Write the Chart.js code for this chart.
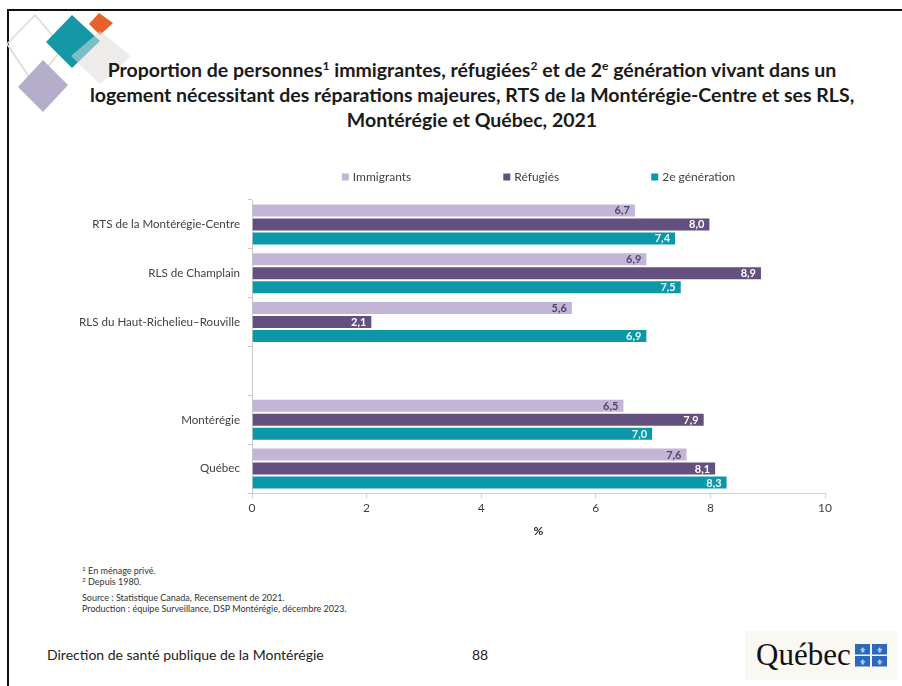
<!DOCTYPE html>
<html><head><meta charset="utf-8">
<script src="https://cdn.jsdelivr.net/npm/chart.js@4.4.0/dist/chart.umd.min.js"></script>
<style>
html,body{margin:0;padding:0;background:#fff;}
body{width:902px;height:686px;position:relative;overflow:hidden;font-family:Lato,sans-serif;}
.frame{position:absolute;left:7px;top:9px;width:900px;height:690px;border-left:2px solid #111;border-top:2px solid #111;}
.title{position:absolute;left:90px;width:764px;top:57px;text-align:center;font-weight:bold;font-size:19.5px;line-height:25px;color:#1a1a1a;white-space:nowrap;}
.title sup{font-size:0.62em;line-height:0;vertical-align:0.6em;}
#wrap{position:absolute;left:40px;top:160px;width:820px;height:390px;}
.notes{position:absolute;left:82px;top:565px;font-size:9px;line-height:11px;color:#333;}
.notes sup{font-size:6.5px;line-height:0;vertical-align:3px;}
.notes .gap{height:5px;}
.footer{position:absolute;left:47px;top:646px;font-size:14px;color:#222;}
.page{position:absolute;left:472px;top:646px;font-size:14px;color:#222;}
.logo{position:absolute;left:745px;top:631px;width:153px;height:49px;background:#faf8f3;}
.logo .q{position:absolute;left:11px;top:6px;font-family:"Liberation Serif",serif;font-size:31px;line-height:36px;color:#111;}
</style>
</head>
<body>
<div class="frame"></div>
<svg style="position:absolute;left:0;top:0" width="140" height="120">
  <polygon points="7,44 35,15 63,48 34,84" fill="none" stroke="#d6dccf" stroke-width="1.5"/>
  <polygon points="43,60 68,85 43,112 18,87" fill="#b5aeca"/>
  <polygon points="100,31 131,56 100,84 71,56" fill="#eceae8"/>
  <polygon points="72,15 100,41 72,68 46,42" fill="#1597a8"/>
  <polygon points="99,13 113,23 100,35 89,24" fill="#e8602b"/>
  <polygon points="100,31 131,56 100,84 71,56" fill="#f2f0ee" fill-opacity="0.45"/>
</svg>
<div class="title">Proportion de personnes<sup>1</sup> immigrantes, réfugiées<sup>2</sup> et de 2<sup>e</sup> génération vivant dans un<br>logement nécessitant des réparations majeures, RTS de la Montérégie-Centre et ses RLS,<br>Montérégie et Québec, 2021</div>
<div id="wrap"><canvas id="c" width="820" height="390"></canvas></div>
<div class="notes"><sup>1</sup> En ménage privé.<br><sup>2</sup> Depuis 1980.<div class="gap"></div>Source : Statistique Canada, Recensement de 2021.<br>Production : équipe Surveillance, DSP Montérégie, décembre 2023.</div>
<div class="footer">Direction de santé publique de la Montérégie</div>
<div class="page">88</div>
<div class="logo"><div class="q">Québec</div>
<svg style="position:absolute;left:110px;top:13px" width="34" height="24">
  <rect x="0" y="0" width="15" height="10.5" fill="#2c68bb"/>
  <rect x="17" y="0" width="15" height="10.5" fill="#2c68bb"/>
  <rect x="0" y="12" width="15" height="10.5" fill="#2c68bb"/>
  <rect x="17" y="12" width="15" height="10.5" fill="#2c68bb"/>
  <g fill="#fff" font-family="DejaVu Sans" font-size="8" text-anchor="middle">
    <text x="7.5" y="8.5">⚜</text><text x="24.5" y="8.5">⚜</text>
    <text x="7.5" y="20.5">⚜</text><text x="24.5" y="20.5">⚜</text>
  </g>
</svg>
</div>
<script>
const categories = ['RTS de la Montérégie-Centre','RLS de Champlain','RLS du Haut-Richelieu–Rouville','','Montérégie','Québec'];
const immigrants = [6.7, 6.9, 5.6, null, 6.5, 7.6];
const refugies = [8.0, 8.9, 2.1, null, 7.9, 8.1];
const deuxiemeGeneration = [7.4, 7.5, 6.9, null, 7.0, 8.3];
const seriesNames = ['Immigrants','Réfugiés','2e génération'];
const xTickValues = [0, 2, 4, 6, 8, 10];
const axisTitle = '%';

const barColors = ['#c2b5d5', '#63507f', '#0b99aa'];
const labelColors = ['#54456e', '#ffffff', '#eef8f9'];
const FONT = 'Lato';

const legendPlugin = {
  id: 'customLegend',
  afterDraw(chart) {
    const ctx = chart.ctx, ca = chart.chartArea;
    ctx.save();
    ctx.font = '12px ' + FONT;
    ctx.textBaseline = 'middle';
    ctx.textAlign = 'left';
    const box = 7, gapText = 4, gapItem = 92;
    const items = chart.data.datasets.map(d => ({text: d.label, color: d.backgroundColor, w: box + gapText + ctx.measureText(d.label).width}));
    const total = items.reduce((a, i) => a + i.w, 0) + gapItem * (items.length - 1);
    let x = (ca.left + ca.right) / 2 - total / 2;
    const y = 17;
    items.forEach(it => {
      ctx.fillStyle = it.color;
      ctx.fillRect(x, y - box / 2, box, box);
      ctx.fillStyle = '#404040';
      ctx.fillText(it.text, x + box + gapText, y);
      x += it.w + gapItem;
    });
    ctx.restore();
  }
};

const valueLabelPlugin = {
  id: 'valueLabels',
  afterDatasetsDraw(chart) {
    const ctx = chart.ctx;
    ctx.save();
    ctx.font = 'bold 11px ' + FONT;
    ctx.textAlign = 'right';
    ctx.textBaseline = 'middle';
    chart.data.datasets.forEach((ds, di) => {
      const meta = chart.getDatasetMeta(di);
      meta.data.forEach((el, i) => {
        const v = ds.data[i];
        if (v === null || v === undefined) return;
        ctx.fillStyle = labelColors[di];
        ctx.fillText(v.toFixed(1).replace('.', ','), el.x - 6, el.y + 0.5);
      });
    });
    ctx.restore();
  }
};

new Chart(document.getElementById('c'), {
  type: 'bar',
  data: {
    labels: categories,
    datasets: [
      {label: seriesNames[0], data: immigrants, backgroundColor: barColors[0]},
      {label: seriesNames[1], data: refugies, backgroundColor: barColors[1]},
      {label: seriesNames[2], data: deuxiemeGeneration, backgroundColor: barColors[2]}
    ].map(d => Object.assign(d, {borderColor: 'rgba(255,255,255,0.7)', borderWidth: 1, barPercentage: 1, categoryPercentage: 0.86}))
  },
  options: {
    indexAxis: 'y',
    responsive: false,
    animation: false,
    devicePixelRatio: 1,
    layout: {padding: {top: 40, right: 35, left: 0, bottom: 0}},
    plugins: {legend: {display: false}, tooltip: {enabled: false}},
    scales: {
      x: {
        min: 0, max: 10,
        afterBuildTicks: s => { s.ticks = xTickValues.map(v => ({value: v})); },
        afterFit: s => { s.height = 57; },
        grid: {drawOnChartArea: false, drawTicks: true, tickLength: 5, color: '#d0d0d0'},
        border: {color: '#d0d0d0'},
        ticks: {color: '#404040', font: {family: FONT, size: 12}, padding: 3},
        title: {display: true, text: axisTitle, color: '#262626', font: {family: FONT, size: 12, weight: 'bold'}, padding: {top: 0, bottom: 12}}
      },
      y: {
        afterFit: s => { s.width = 212; },
        grid: {drawOnChartArea: false, drawTicks: true, tickLength: 4, color: '#c8c8c8'},
        border: {color: '#c8c8c8'},
        ticks: {color: '#404040', font: {family: FONT, size: 11.6}, padding: 8}
      }
    }
  },
  plugins: [legendPlugin, valueLabelPlugin]
});
</script>
</body></html>
